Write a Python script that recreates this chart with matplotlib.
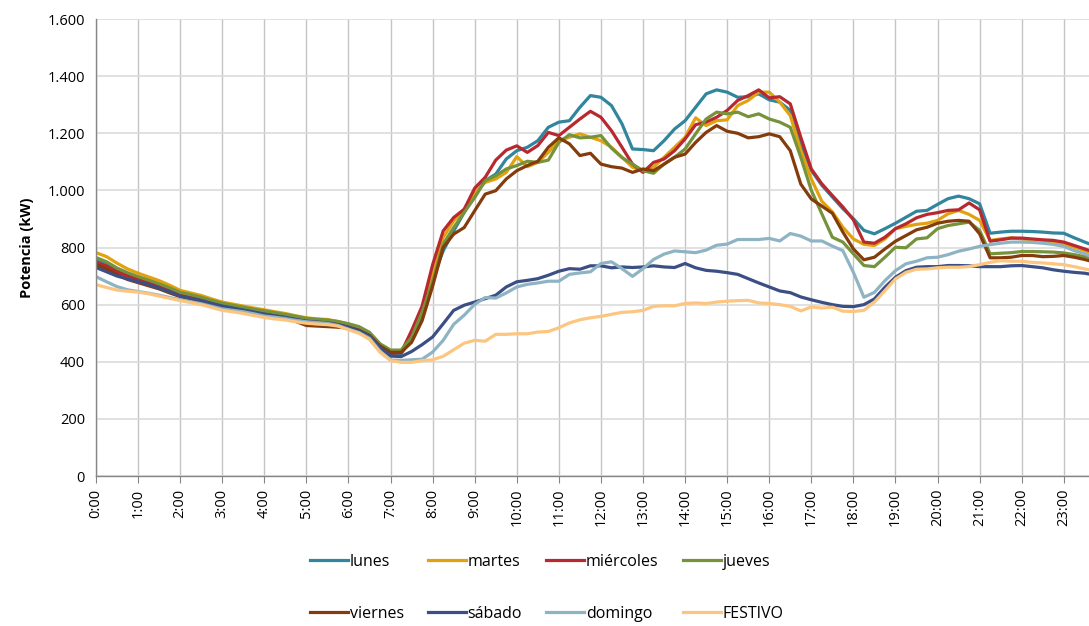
import matplotlib
matplotlib.use('Agg')
import matplotlib.pyplot as plt
from matplotlib.ticker import FuncFormatter

plt.rcParams['font.family'] = ['Open Sans', 'DejaVu Sans']

# potencia media cada 15 minutos (kW), de 0:00 a 23:45
lunes = [
    755, 740, 720, 703, 690, 678, 665, 652, 635, 627, 618, 607, 597, 590, 583, 576,
    569, 563, 557, 551, 546, 543, 540, 534, 524, 512, 492, 455, 428, 428, 480, 565,
    690, 788, 858, 923, 987, 1034, 1057, 1110, 1139, 1151, 1174, 1221, 1239, 1244, 1291, 1332,
    1326, 1297, 1233, 1145, 1143, 1139, 1174, 1215, 1244, 1291, 1338, 1352, 1344, 1326, 1328, 1338,
    1317, 1309, 1280, 1163, 1070, 1018, 977, 936, 901, 860, 848, 866, 885, 906, 927, 930,
    951, 971, 980, 971, 953, 850, 854, 857, 857, 856, 854, 851, 850, 834, 819, 805]
martes = [
    782, 768, 745, 725, 710, 697, 684, 668, 650, 641, 632, 620, 609, 602, 595, 588,
    582, 575, 569, 561, 554, 550, 548, 541, 532, 520, 498, 460, 436, 436, 495, 579,
    700, 835, 893, 934, 993, 1028, 1040, 1063, 1118, 1083, 1098, 1133, 1174, 1186, 1198, 1186,
    1174, 1151, 1116, 1081, 1069, 1081, 1116, 1151, 1186, 1254, 1227, 1244, 1247, 1297, 1315, 1344,
    1344, 1309, 1262, 1139, 1040, 962, 925, 871, 830, 811, 807, 830, 866, 874, 881, 885,
    895, 918, 930, 916, 895, 825, 830, 834, 830, 827, 825, 819, 813, 801, 789, 775]
miercoles = [
    748, 735, 715, 700, 688, 676, 663, 648, 633, 625, 616, 605, 596, 589, 582, 575,
    568, 562, 556, 550, 545, 542, 539, 533, 523, 511, 493, 456, 430, 432, 509, 595,
    740, 858, 905, 934, 1008, 1046, 1106, 1141, 1156, 1133, 1157, 1203, 1192, 1221, 1250, 1277,
    1256, 1209, 1151, 1092, 1063, 1098, 1110, 1139, 1180, 1230, 1239, 1256, 1280, 1315, 1332, 1352,
    1324, 1328, 1303, 1186, 1075, 1023, 982, 942, 897, 819, 815, 836, 866, 883, 904, 916,
    922, 930, 932, 956, 932, 822, 827, 833, 833, 830, 827, 825, 819, 807, 795, 782]
jueves = [
    765, 750, 728, 712, 698, 686, 673, 659, 643, 635, 626, 615, 605, 598, 591, 584,
    578, 572, 566, 559, 552, 549, 546, 541, 533, 523, 503, 463, 441, 441, 485, 574,
    680, 812, 870, 923, 975, 1034, 1051, 1075, 1087, 1102, 1098, 1106, 1168, 1195, 1184, 1186,
    1192, 1148, 1115, 1092, 1069, 1060, 1092, 1116, 1145, 1198, 1250, 1274, 1268, 1274, 1258, 1268,
    1250, 1239, 1221, 1116, 1000, 918, 836, 819, 778, 737, 733, 766, 801, 799, 830, 834,
    866, 877, 883, 889, 860, 778, 780, 782, 786, 786, 785, 784, 781, 775, 768, 760]
viernes = [
    740, 725, 705, 688, 677, 666, 655, 641, 628, 620, 612, 602, 593, 586, 579, 571,
    563, 556, 550, 541, 527, 525, 523, 521, 518, 510, 492, 455, 433, 433, 468, 544,
    665, 800, 847, 870, 929, 987, 999, 1040, 1069, 1087, 1102, 1151, 1184, 1163, 1122, 1130,
    1092, 1083, 1078, 1063, 1075, 1069, 1092, 1116, 1127, 1168, 1203, 1227, 1207, 1200, 1184, 1188,
    1198, 1188, 1139, 1022, 970, 945, 920, 854, 795, 757, 766, 795, 822, 842, 862, 871,
    885, 892, 895, 892, 848, 764, 764, 766, 772, 772, 768, 769, 772, 766, 758, 748]
sabado = [
    730, 715, 700, 690, 680, 670, 658, 645, 630, 622, 614, 604, 595, 588, 581, 574,
    567, 561, 555, 548, 542, 539, 536, 530, 521, 509, 490, 450, 420, 418, 436, 460,
    487, 533, 580, 598, 609, 621, 633, 662, 680, 685, 691, 703, 717, 726, 724, 736,
    736, 729, 732, 730, 732, 736, 732, 730, 744, 729, 720, 717, 712, 706, 691, 676,
    662, 648, 642, 627, 617, 608, 600, 594, 593, 600, 620, 661, 696, 719, 731, 733,
    733, 737, 737, 736, 733, 733, 733, 736, 737, 733, 729, 722, 717, 713, 710, 703]
domingo = [
    698, 680, 663, 652, 646, 640, 633, 625, 617, 610, 603, 594, 585, 580, 575, 568,
    560, 556, 551, 545, 540, 537, 534, 527, 514, 502, 482, 437, 406, 405, 407, 409,
    434, 475, 531, 563, 601, 625, 623, 641, 662, 671, 676, 682, 682, 706, 711, 715,
    744, 750, 726, 699, 726, 758, 777, 788, 785, 782, 791, 808, 812, 828, 828, 828,
    832, 823, 849, 840, 823, 823, 805, 789, 713, 626, 643, 684, 719, 743, 752, 764,
    766, 775, 787, 795, 804, 810, 815, 819, 819, 818, 815, 811, 804, 789, 778, 762]
festivo = [
    670, 660, 651, 647, 644, 638, 630, 622, 614, 607, 600, 590, 580, 575, 569, 562,
    555, 550, 546, 540, 535, 532, 530, 525, 512, 500, 478, 433, 404, 398, 398, 404,
    407, 419, 442, 465, 475, 472, 496, 496, 498, 498, 504, 506, 519, 536, 547, 554,
    559, 566, 573, 575, 580, 594, 596, 596, 604, 606, 604, 609, 612, 614, 615, 606,
    604, 600, 594, 578, 592, 588, 591, 577, 576, 580, 609, 649, 690, 713, 724, 725,
    729, 731, 731, 733, 740, 748, 754, 752, 752, 748, 746, 743, 740, 733, 725, 718]

series = ['lunes', 'martes', 'miércoles', 'jueves', 'viernes', 'sábado', 'domingo', 'FESTIVO']
values = [lunes, martes, miercoles, jueves, viernes, sabado, domingo, festivo]
colors = ['#31859C', '#E2A20E', '#B8292F', '#76933C', '#843C0C', '#3C4F85', '#8EB4C4', '#FCC680']
hour_labels = [f'{h}:00' for h in range(24)]


def plot_chart(path):
    fig = plt.figure(figsize=(10.89, 6.26), dpi=100)
    ax = fig.add_axes([0.0882, 0.2396, 0.9118, 0.730])
    x = list(range(len(lunes)))
    lines = []
    for name, vals, col in zip(series, values, colors):
        ln, = ax.plot(x, vals, color=col, lw=2.3, label=name, solid_joinstyle='round')
        lines.append(ln)

    ax.set_xlim(0, 94.4)
    ax.set_ylim(0, 1600)
    ax.set_yticks(range(0, 1601, 200))
    ax.yaxis.set_major_formatter(FuncFormatter(lambda v, p: f'{int(v):,}'.replace(',', '.')))
    ax.set_xticks(range(0, 96, 4))
    ax.set_xticklabels(hour_labels, rotation=90, fontsize=10.5)
    ax.tick_params(axis='y', length=0, labelsize=10.5, pad=8)
    ax.tick_params(axis='x', length=5, color='#868686', pad=4)

    ax.grid(axis='y', color='#d9d9d9', lw=1.1)
    ax.grid(axis='x', color='#c4c4c4', lw=1.0)
    ax.set_axisbelow(True)
    for s in ['top', 'right']:
        ax.spines[s].set_visible(False)
    for s in ['left', 'bottom']:
        ax.spines[s].set_color('#868686')
        ax.spines[s].set_linewidth(1.0)

    ax.set_ylabel('Potencia (kW)', fontsize=10.5, fontweight='bold', labelpad=10)

    # legend filled row by row (matplotlib fills columns first)
    order = [0, 4, 1, 5, 2, 6, 3, 7]
    fig.legend([lines[i] for i in order], [series[i] for i in order],
               loc='center', bbox_to_anchor=(0.502, 0.0607), ncol=4, frameon=False,
               fontsize=11.5, handlelength=2.4, handletextpad=0.1,
               columnspacing=1.5, labelspacing=2.25)
    fig.savefig(path, dpi=100)
    plt.close(fig)


def main():
    plot_chart('out.png')


if __name__ == '__main__':
    main()
